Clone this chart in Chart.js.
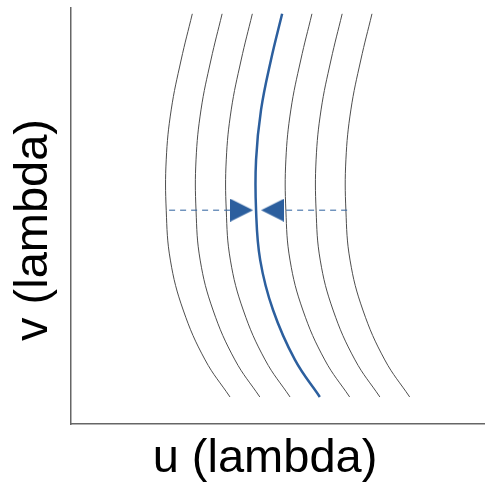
<!DOCTYPE html>
<html>
<head>
<meta charset="utf-8">
<script src="https://cdn.jsdelivr.net/npm/chart.js@4/dist/chart.umd.min.js"></script>
<style>
  html, body { margin: 0; padding: 0; background: #fff; }
  #wrap { width: 485px; height: 485px; }
</style>
</head>
<body>
<div id="wrap"><canvas id="uvChart"></canvas></div>
<script>
// v sample positions shared by every track (top to bottom)
const vSamples = [98.6, 87.5, 75.5, 63.5, 51.4, 39.4, 27.4, 15.4, 6.5];

// u values of the grey tracks
const trackA = [29.3, 26.6, 24.2, 23.0, 23.0, 24.0, 27.1, 32.4, 38.4];
const trackB = [36.5, 33.8, 31.4, 30.2, 30.2, 31.2, 34.3, 39.6, 45.6];
const trackC = [43.8, 41.1, 38.7, 37.5, 37.5, 38.5, 41.6, 46.9, 52.9];
const trackE = [58.2, 55.5, 53.1, 51.9, 51.9, 52.9, 56.0, 61.3, 67.3];
const trackF = [65.5, 62.8, 60.4, 59.2, 59.2, 60.2, 63.3, 68.6, 74.6];
const trackG = [72.7, 70.0, 67.6, 66.4, 66.4, 67.4, 70.5, 75.8, 81.8];
// the highlighted track
const trackMain = [51.0, 48.3, 45.9, 44.7, 44.7, 45.7, 48.8, 54.1, 60.1];

// dashed arrows toward the main track
const arrowV = 51.4;
const arrowLeftU = [23.7, 38.4];
const arrowRightU = [66.7, 51.2];
const headU = [41.2, 48.7];

const xTitle = 'u (lambda)';
const yTitle = 'v (lambda)';

const BLUE = '#2c5f9e';
const GREY = '#4d4d4d';

function pts(us, vs){ return us.map((u,i)=>({x:u, y:vs[i]})); }

function headImage(dir){
  const c = document.createElement('canvas');
  c.width = 23; c.height = 23;
  const g = c.getContext('2d');
  g.fillStyle = BLUE;
  g.beginPath();
  if(dir > 0){ g.moveTo(0,0); g.lineTo(23,11.5); g.lineTo(0,23); }
  else { g.moveTo(23,0); g.lineTo(0,11.5); g.lineTo(23,23); }
  g.closePath(); g.fill();
  return c;
}

function track(us, main){
  return {
    data: pts(us, vSamples), showLine: true, pointRadius: 0,
    borderColor: main ? BLUE : GREY, borderWidth: main ? 2.5 : 1,
    tension: 0.4, order: main ? 0 : 1
  };
}

function dashed(us){
  return {
    data: us.map(u=>({x:u, y:arrowV})), showLine: true, pointRadius: 0,
    borderColor: BLUE, borderWidth: 1, borderDash: [6,5], tension: 0
  };
}

const titles = {
  id: 'titles',
  afterDraw(chart){
    const ctx = chart.ctx;
    ctx.save();
    ctx.fillStyle = '#000';
    ctx.font = '47px "Liberation Sans", Arial, sans-serif';
    ctx.textAlign = 'center';
    ctx.textBaseline = 'alphabetic';
    ctx.fillText(xTitle, 265, 472);
    ctx.translate(47, 230);
    ctx.rotate(-Math.PI/2);
    ctx.fillText(yTitle, 0, 0);
    ctx.restore();
  }
};

new Chart(document.getElementById('uvChart').getContext('2d'), {
  type: 'scatter',
  data: {
    datasets: [
      track(trackA), track(trackB), track(trackC),
      track(trackE), track(trackF), track(trackG),
      track(trackMain, true),
      dashed(arrowLeftU), dashed(arrowRightU),
      {
        data: [{x:headU[0], y:arrowV}, {x:headU[1], y:arrowV}],
        pointStyle: [headImage(1), headImage(-1)], pointRadius: 12,
        showLine: false
      }
    ]
  },
  options: {
    responsive: true, maintainAspectRatio: false, animation: false,
    layout: { autoPadding: false, padding: { left: 71, top: 8, right: 0, bottom: 61 } },
    plugins: { legend: { display: false }, tooltip: { enabled: false } },
    scales: {
      x: {
        min: 0, max: 100,
        grid: { display: false, drawTicks: false },
        border: { display: true, color: '#666', width: 1.5 },
        ticks: { display: false }
      },
      y: {
        min: 0, max: 100,
        grid: { display: false, drawTicks: false },
        border: { display: true, color: '#666', width: 1.5 },
        ticks: { display: false }
      }
    }
  },
  plugins: [titles]
});
</script>
</body>
</html>
